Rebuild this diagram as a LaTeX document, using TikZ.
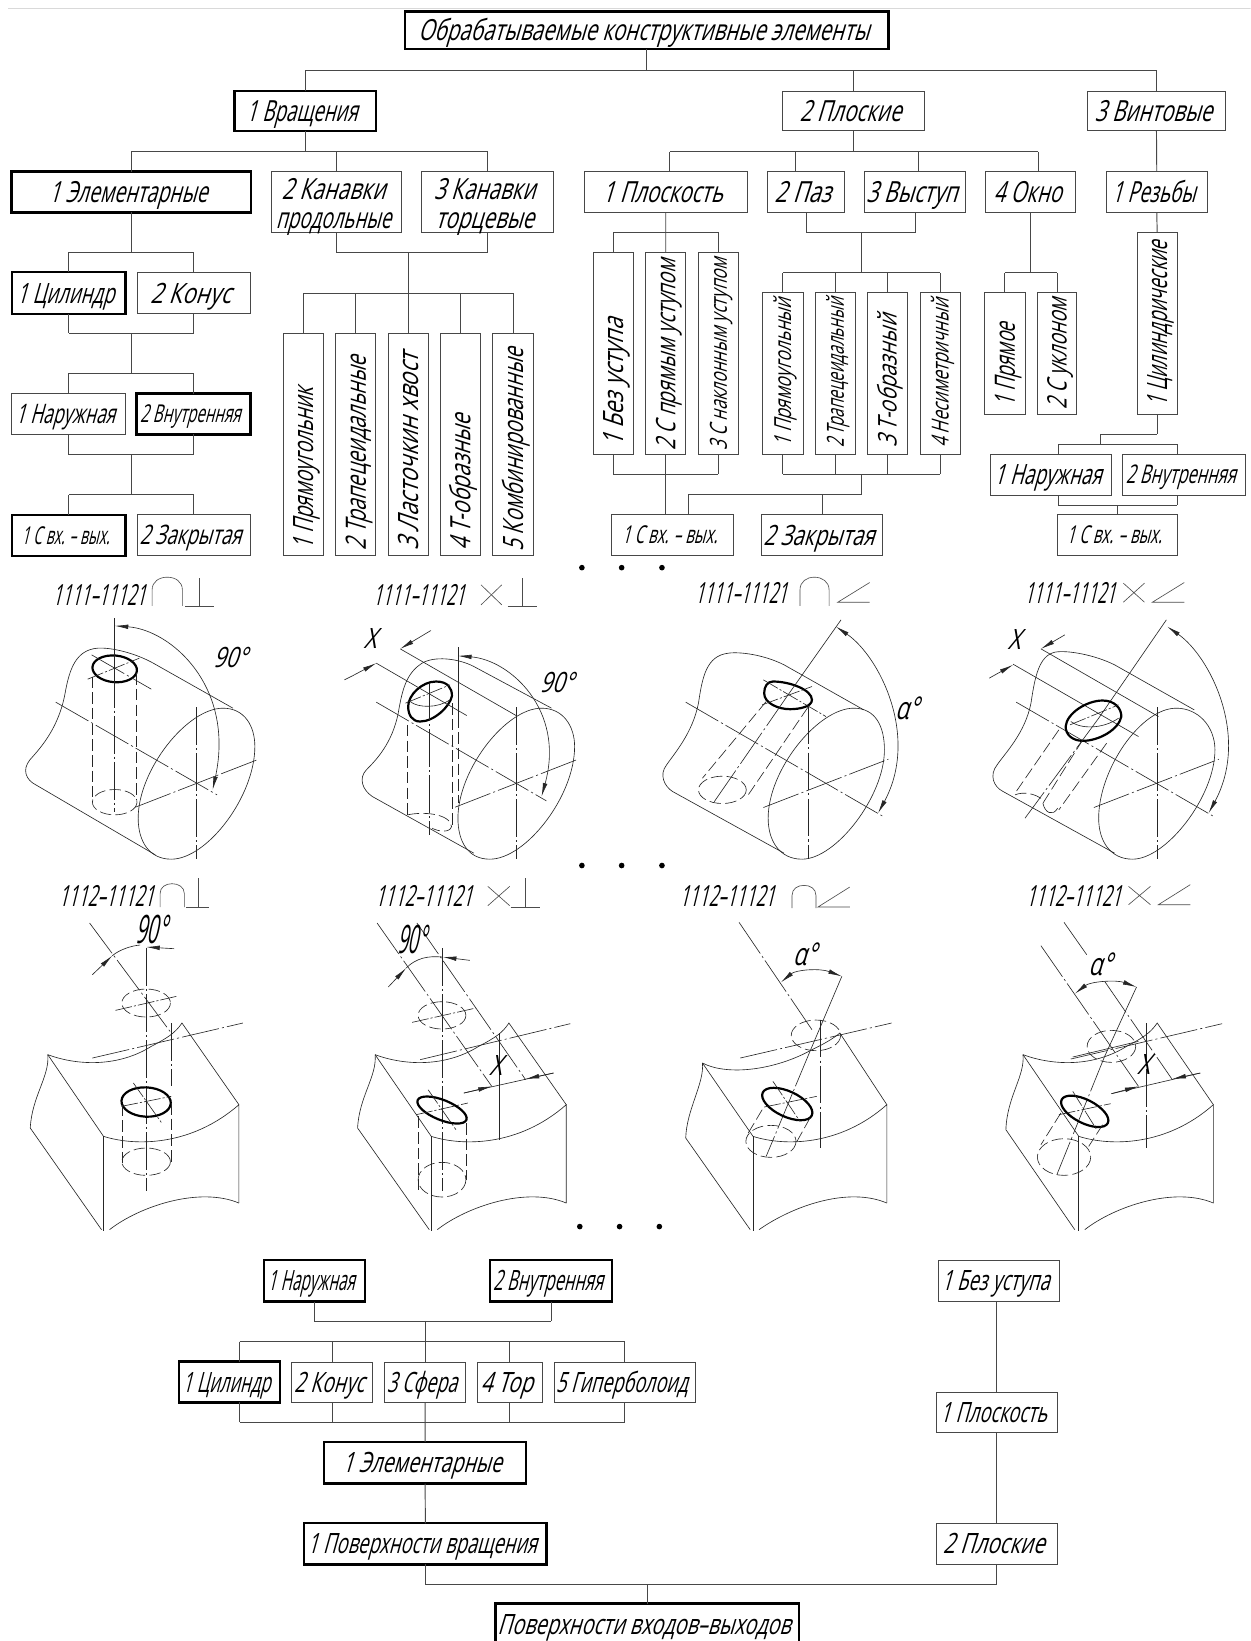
\documentclass[tikz,border=0pt]{standalone}
\usepackage{fontspec}
\usepackage{graphicx}
\setmainfont[FakeSlant=0.42]{Open Sans}
\usetikzlibrary{arrows.meta}
\tikzset{
  thinbox/.style={draw=black!72,line width=0.9pt,inner sep=0pt,outer sep=0pt,align=center},
  thickbox/.style={draw=black,line width=2.3pt,inner sep=0pt,outer sep=0pt,align=center},
  conn/.style={draw=black!72,line width=0.9pt},
  fine/.style={draw=black!85,line width=0.6pt},
  chain/.style={fine,dash pattern=on 36pt off 3pt on 2pt off 3pt},
  chainb/.style={fine,dash pattern=on 16pt off 2pt on 2pt off 2pt},
  hid/.style={fine,dash pattern=on 11pt off 4pt},
  hole/.style={draw=black,line width=2.1pt},
  sym/.style={draw=black!70,line width=0.6pt},
  dimarc/.style={fine,{Latex[length=13pt,width=4.4pt]}-{Latex[length=13pt,width=4.4pt]}},
  dimtip/.style={fine,-{Latex[length=13pt,width=4.4pt]}},
  txt/.style={inner sep=0pt,outer sep=0pt},
  zup/.style={x=0.3805pt,y=-0.3185pt}
}
\newcommand\fw[2]{\raisebox{-0.357em}[0pt][0pt]{\resizebox{#1pt}{\height}{#2}\hspace*{6pt}}}
\newcommand\setfs[1]{\pgfmathsetmacro\fsz{1.07*#1}\fontsize{\fsz}{\fsz}\selectfont}
\newcommand\bx[9]{%
  \pgfmathsetmacro\bw{#4-#3}\pgfmathsetmacro\bh{#6-#5}%
  \pgfmathsetmacro\bcx{(#3+#4)/2}\pgfmathsetmacro\bcy{(#5+#6)/2}%
  \node[#1,minimum width=\bw pt,minimum height=\bh pt,font=\setfs{#7}] (#2) at (\bcx,\bcy) {\fw{#8}{#9}};}
\newcommand\vbx[6]{%
  \pgfmathsetmacro\bw{#4-#3}\pgfmathsetmacro\bh{#6-#5}%
  \pgfmathsetmacro\bcx{(#3+#4)/2}\pgfmathsetmacro\bcy{(#5+#6)/2}%
  \node[#1,minimum width=\bw pt,minimum height=\bh pt] (#2) at (\bcx,\bcy) {};}
\newcommand\vtx[5]{\node[txt,rotate=90,anchor=west,font=\setfs{#2}] (#1t) at (#1 |- 0,#4) {\fw{#3}{#5}};}
\newcommand\down[2]{\foreach \n in {#2}{\draw[conn] (\n.south) -- (\n |- 0,#1);}}
\newcommand\up[2]{\foreach \n in {#2}{\draw[conn] (\n.north) -- (\n |- 0,#1);}}
\newcommand\hrail[3]{\draw[conn] (#2 |- 0,#1) -- (#3 |- 0,#1);}
\newcommand\stem[3]{\draw[conn] (#1 |- 0,#2) -- (#1 |- 0,#3);}
\newcommand\hdr[5]{\node[txt,font=\setfs{26}] (#1) at (#2,#3) {\fw{#4}{#5}};}
\newcommand\lab[6]{\node[txt,font=\setfs{#4}] (#1) at (#2,#3) {\fw{#5}{#6}};}
\newcommand\ellz[5][hid]{\draw[#1] (#2,#3) ellipse [x radius=#4,y radius=#5];}
\newcommand\holez[5]{\draw[hole,rotate around={#5:(#1,#2)}] (#1,#2) ellipse [x radius=#3,y radius=#4];}
\begin{document}
\begin{tikzpicture}[x=1pt,y=-1pt]
\clip (0,0) rectangle (1195,1568);
\fill[white] (0,0) rectangle (1195,1568);
\draw[black!15,line width=0.8pt] (8,7.6) -- (1195,7.6);
% ---------- top tree
\bx{thickbox}{top}{387}{849}{11}{47}{26}{431}{Обрабатываемые конструктивные элементы}
\bx{thickbox}{rot}{224}{359}{87}{125}{26}{106}{1 Вращения}
\bx{thinbox}{plo}{748}{883}{87}{125}{26}{97}{2 Плоские}
\bx{thinbox}{vin}{1039}{1171}{87}{125}{26}{112}{3 Винтовые}
\down{67}{top}\hrail{67}{rot}{vin}\up{67}{rot,plo,vin}
% rotation branch
\bx{thickbox}{el}{11}{240}{164}{203}{26}{151}{1 Элементарные}
\vbx{thinbox}{kp}{259}{384}{164}{222}
\vbx{thinbox}{kt}{403}{529}{164}{222}
\lab{kp1}{321.5}{181}{26}{99}{2 Канавки}
\lab{kp2}{321.5}{208}{26}{110}{продольные}
\lab{kt1}{466}{181}{26}{97}{3 Канавки}
\lab{kt2}{466}{208}{26}{94}{торцевые}
\down{144.5}{rot}\hrail{144.5}{el}{kt}\up{144.5}{el,kp,kt}
\bx{thickbox}{cy}{11.4}{120}{260}{300}{25}{93}{1 Цилиндр}
\bx{thinbox}{ko}{131}{239}{260}{300}{25}{77}{2 Конус}
\bx{thinbox}{na}{11.4}{119.5}{376}{415}{24}{95}{1 Наружная}
\bx{thickbox}{vn}{130.5}{239.3}{376}{415}{22}{96}{2 Внутренняя}
\bx{thickbox}{sv}{11.4}{120}{492}{531}{22}{84}{1 С вх. – вых.}
\bx{thinbox}{za}{131}{239}{492}{531}{24}{97}{2 Закрытая}
\down{241}{el}\hrail{241}{cy}{ko}\up{241}{cy,ko}
\down{318.5}{cy,ko}\hrail{318.5}{cy}{ko}\stem{el}{318.5}{357}
\hrail{357}{na}{vn}\up{357}{na,vn}
\down{434}{na,vn}\hrail{434}{na}{vn}\stem{el}{434}{472.6}
\hrail{472.6}{sv}{za}\up{472.6}{sv,za}
\vbx{thinbox}{a1}{270.5}{309}{318.5}{530.5}
\vbx{thinbox}{a2}{321}{359}{318.5}{530.5}
\vbx{thinbox}{a3}{371}{409.5}{318.5}{530.5}
\vbx{thinbox}{a4}{421}{459}{318.5}{530.5}
\vbx{thinbox}{a5}{471}{509.5}{318.5}{530.5}
\vtx{a1}{25}{155}{525}{1 Прямоугольник}
\vtx{a2}{25}{186}{526}{2 Трапецеидальные}
\vtx{a3}{25}{189}{526}{3 Ласточкин хвост}
\vtx{a4}{25}{130}{526}{4 Т-образные}
\vtx{a5}{25}{194}{527}{5 Комбинированные}
\down{241}{kp,kt}\hrail{241}{kp}{kt}\stem{a3}{241}{318.5}
\hrail{280}{a1}{a5}\up{280}{a1,a2,a4,a5}
% plane branch
\bx{thinbox}{pl}{558}{714.2}{164}{203}{26}{115}{1 Плоскость}
\bx{thinbox}{pa}{733.3}{806.7}{164}{203}{26}{54}{2 Паз}
\bx{thinbox}{vy}{825.8}{922.5}{164}{203}{26}{87}{3 Выступ}
\bx{thinbox}{ok}{941.6}{1028}{164}{203}{26}{65}{4 Окно}
\bx{thinbox}{re}{1057}{1153.6}{164}{203}{26}{80}{1 Резьбы}
\down{145}{plo}\coordinate (rl) at (640,0);\coordinate (rr) at (992,0);
\coordinate (px) at (760.3,0);\coordinate (vx) at (878,0);
\hrail{145}{rl}{rr}
\draw[conn] (rl |- 0,145) -- (rl |- pl.north);
\draw[conn] (px |- 0,145) -- (px |- pa.north);
\draw[conn] (vx |- 0,145) -- (vx |- vy.north);
\draw[conn] (rr |- 0,145) -- (rr |- ok.north);
\draw[conn] (vin.south) -- (re.north);
\vbx{thinbox}{b1}{566.9}{605}{241}{434}
\vbx{thinbox}{b2}{617}{655.3}{241}{434}
\vbx{thinbox}{b3}{667.3}{705.5}{241}{434}
\vtx{b1}{25}{122.6}{427}{1 Без уступа}
\vtx{b2}{24}{182}{430}{2 С прямым уступом}
\vtx{b3}{21}{183}{430}{3 С наклонным уступом}
\draw[conn] (pl.south) -- (b2.north);
\hrail{222}{b1}{b3}\foreach \n in {b1,b3}{\draw[conn] (\n.north) -- (\n |- 0,222);}
\down{453}{b1,b3}\hrail{453}{b1}{b3}
\bx{thinbox}{s2}{584.7}{701}{492}{530.6}{22}{91}{1 С вх. – вых.}
\bx{thinbox}{z2}{727.5}{843.3}{492}{530.6}{25}{106}{2 Закрытая}
\draw[conn] (b2.south) -- (b2 |- s2.north);
\coordinate (cmid) at (823,0);
\vbx{thinbox}{c1}{728.7}{767.3}{279.7}{434}
\vbx{thinbox}{c2}{779}{817.5}{279.7}{434}
\vbx{thinbox}{c3}{828.7}{867.3}{279.7}{434}
\vbx{thinbox}{c4}{879.4}{917.5}{279.7}{434}
\vtx{c1}{21}{141.7}{427}{1 Прямоугольный}
\vtx{c2}{21}{143}{428}{2 Трапецеидальный}
\vtx{c3}{23}{127}{428}{3 Т-образный}
\vtx{c4}{21}{142}{428}{4 Несиметричный}
\coordinate (pz) at (770.2,0);\coordinate (vz) at (874.8,0);
\stem{pz}{203}{222}\stem{vz}{203}{222}\hrail{222}{pz}{vz}\stem{cmid}{222}{260.5}
\hrail{260.5}{c1}{c4}\up{260.5}{c1,c2,c3,c4}
\down{453}{c1,c2,c3,c4}\hrail{453}{c1}{c4}\stem{cmid}{453}{472.9}
\coordinate (xa) at (657.8,0);
\hrail{472.9}{xa}{cmid}\draw[conn] (xa |- 0,472.9) -- (xa |- s2.north);\up{472.9}{z2}
\vbx{thinbox}{d1}{940.8}{979.4}{279.7}{395.9}
\vbx{thinbox}{d2}{991}{1029}{279.7}{395.9}
\vtx{d1}{25}{80}{388.5}{1 Прямое}
\vtx{d2}{24}{106}{391}{2 С уклоном}
\stem{ok}{203}{260.5}\hrail{260.5}{d1}{d2}\up{260.5}{d1,d2}
% thread branch
\vbx{thinbox}{e1}{1086.4}{1125}{222}{396}
\vtx{e1}{25}{158}{388.5}{1 Цилиндрические}
\draw[conn] (re.south) -- (e1.north);
\bx{thinbox}{n3}{946.2}{1062.3}{434}{473}{25}{102.5}{1 Наружная}
\bx{thinbox}{v3}{1073}{1189.7}{434}{473}{23}{105}{2 Внутренняя}
\bx{thinbox}{s3}{1010}{1125.4}{492}{530.6}{22}{91}{1 С вх. – вых.}
\coordinate (t1) at (1051.1,0);\coordinate (t2) at (1011.3,0);\coordinate (t3) at (1124.6,0);
\down{415}{e1}\hrail{415}{t1}{e1}\stem{t1}{415}{424.5}
\hrail{424.5}{t2}{t3}\stem{t2}{424.5}{434}\stem{t3}{424.5}{434}
\stem{t2}{473}{482.8}\stem{t3}{473}{482.8}\hrail{482.8}{t2}{t3}\up{482.8}{s3}
% dots
\foreach \i/\x/\y in {1/556/542.4,2/594/542.4,3/632.5/542.4,4/556/827,5/594/827,6/632.5/827,7/554/1172,8/592/1172,9/630/1172}
  {\fill[black] (\x,\y) circle (2.7pt);}
% ========== figure 1
\begin{scope}[shift={(0,544.5)},zup]
\hdr{h1}{257}{76}{89}{1111–11121}
\draw[sym] (382,108) -- (382,60) .. controls (382,35) and (400,22) .. (420,22) .. controls (440,22) and (458,35) .. (458,60) -- (458,108);
\draw[sym] (465,108) -- (538,108) (500,25) -- (500,108);
\draw[fine] (560,415) .. controls (615,415) and (640,470) .. (640,530) .. controls (640,680) and (520,868) .. (430,868) .. controls (375,868) and (347,815) .. (347,745) .. controls (347,600) and (470,415) .. (560,415);
\draw[fine] (585,415) -- (385,280) .. controls (340,250) and (280,232) .. (245,235) .. controls (190,240) and (175,300) .. (165,360) .. controls (150,470) and (105,530) .. (75,570) .. controls (55,600) and (65,630) .. (90,645) -- (390,855);
\draw[chain] (140,397) -- (545,675);
\draw[chain] (494,412) -- (494,868);
\draw[chain] (340,712) -- (650,568);
\holez{288}{297}{56}{40}{-5}
\draw[chain] (230,255) -- (380,358);
\draw[chainb] (220,328) -- (350,265);
\draw[fine] (288,145) -- (288,300);
\draw[chain] (288,300) -- (288,725);
\draw[hid] (232,320) -- (232,680) (343,310) -- (343,690);
\ellz{288}{697}{56}{38}
\draw[dimarc] (534,660) .. controls (590,350) and (430,180) .. (288,168);
\lab{d1a}{585}{262}{25}{32}{90°}
\end{scope}
% ========== figure 2
\begin{scope}[shift={(0,544.5)},zup]
\hdr{h2}{1060}{76}{87.5}{1111–11121}
\draw[sym] (1208,45) -- (1260,105) (1208,105) -- (1260,45);
\draw[sym] (1275,108) -- (1348,108) (1312,25) -- (1312,108);
\draw[fine] (1360,415) .. controls (1415,415) and (1443,470) .. (1443,530) .. controls (1443,680) and (1320,868) .. (1230,868) .. controls (1175,868) and (1150,815) .. (1150,745) .. controls (1150,600) and (1270,415) .. (1360,415);
\draw[fine] (1385,415) -- (1190,290) .. controls (1150,265) and (1090,258) .. (1060,280) .. controls (1020,310) and (1010,360) .. (1000,430) .. controls (985,520) and (945,570) .. (920,600) .. controls (900,625) and (910,660) .. (935,680) -- (1190,850);
\draw[chain] (945,397) -- (1372,693);
\draw[chain] (1296,412) -- (1296,868);
\draw[chain] (1143,712) -- (1452,568);
\draw[hole] (1095,335) .. controls (1125,335) and (1135,355) .. (1135,378) .. controls (1130,410) and (1090,455) .. (1055,455) .. controls (1035,455) and (1025,435) .. (1025,410) .. controls (1025,375) and (1060,335) .. (1095,335) -- cycle;
\draw[fine] (1030,395) .. controls (1050,415) and (1100,415) .. (1130,390);
\draw[fine] (1005,237) -- (1296,437);
\draw[fine] (945,280) -- (1172,437);
\draw[chainb] (1018,400) -- (1130,345);
\draw[chain] (1078,340) -- (1078,795);
\draw[hid] (1024,465) -- (1024,735) (1135,400) -- (1135,770);
\draw[hid] (1024,735) .. controls (1060,725) and (1130,730) .. (1134,770) .. controls (1130,790) and (1100,785) .. (1085,775);
\draw[fine] (1150,232) -- (1150,440);
\draw[hid] (1150,440) -- (1150,700);
\draw[fine] (865,330) -- (885,318);
\draw[dimtip] (885,318) -- (945,280);
\draw[dimtip] (1082,182) -- (1005,237);
\lab{x2}{937}{205}{25}{12}{Х}
\draw[dimarc] (1360,680) .. controls (1420,420) and (1280,270) .. (1150,258);
\lab{d2a}{1405}{338}{25}{32}{90°}
\end{scope}
% ========== figure 3
\begin{scope}[shift={(597,544.5)},zup]
\hdr{h3}{300}{70}{88}{1111–11121}
\draw[sym] (440,108) -- (440,60) .. controls (440,35) and (457,22) .. (476,22) .. controls (495,22) and (513,35) .. (513,60) -- (513,108);
\draw[sym] (615,38) -- (535,97) -- (615,97);
\draw[fine] (575,415) .. controls (630,415) and (652,470) .. (652,540) .. controls (652,680) and (530,868) .. (445,868) .. controls (390,868) and (360,815) .. (360,745) .. controls (360,600) and (485,415) .. (575,415);
\draw[fine] (600,420) -- (400,285) .. controls (350,255) and (290,245) .. (260,250) .. controls (205,258) and (195,320) .. (185,400) .. controls (170,490) and (125,550) .. (105,585) .. controls (85,615) and (100,650) .. (120,665) -- (400,850);
\draw[chain] (153,397) -- (652,742);
\draw[chain] (460,410) -- (460,868);
\draw[chain] (348,713) -- (662,568);
\draw[hole] (372,335) .. controls (415,335) and (470,360) .. (470,390) .. controls (470,410) and (440,418) .. (415,418) .. controls (385,418) and (350,400) .. (350,370) .. controls (350,350) and (358,335) .. (372,335) -- cycle;
\draw[chainb] (348,330) -- (505,440);
\draw[chainb] (345,405) -- (470,350);
\draw[fine] (543,150) -- (410,375);
\draw[chain] (410,375) -- (222,700);
\draw[hid] (355,395) -- (195,625) (460,412) -- (310,675);
\ellz{245}{660}{60}{41}
\draw[dimarc] (636,730) .. controls (740,500) and (640,260) .. (530,170);
\lab{d3a}{715}{415}{28}{22}{α°}
\end{scope}
% ========== figure 4
\begin{scope}[shift={(597,544.5)},zup]
\hdr{h4}{1126}{70}{87}{1111–11121}
\draw[sym] (1252,40) -- (1305,97) (1252,97) -- (1305,40);
\draw[sym] (1405,38) -- (1325,97) -- (1405,97);
\draw[fine] (1385,415) .. controls (1440,415) and (1482,470) .. (1482,540) .. controls (1482,680) and (1360,868) .. (1275,868) .. controls (1220,868) and (1190,815) .. (1190,745) .. controls (1190,600) and (1295,415) .. (1385,415);
\draw[fine] (1430,420) -- (1230,285) .. controls (1180,255) and (1110,240) .. (1080,247) .. controls (1040,258) and (1030,320) .. (1020,400) .. controls (1005,490) and (955,550) .. (935,585) .. controls (915,615) and (925,650) .. (950,665) -- (1230,850);
\draw[chain] (983,397) -- (1482,742);
\draw[chain] (1336,412) -- (1336,868);
\draw[chain] (1178,713) -- (1492,568);
\draw[fine] (1045,237) -- (1340,440);
\draw[fine] (975,283) -- (1290,500);
\draw[fine] (1360,150) -- (1190,445);
\draw[chain] (1190,445) -- (1005,745);
\draw[hole] (1200,392) .. controls (1230,392) and (1247,415) .. (1247,440) .. controls (1240,480) and (1190,513) .. (1150,513) .. controls (1125,513) and (1107,495) .. (1107,470) .. controls (1110,430) and (1160,392) .. (1200,392) -- cycle;
\draw[fine] (1120,455) .. controls (1145,478) and (1200,478) .. (1240,445);
\draw[chainb] (1118,465) -- (1240,405);
\draw[hid] (1090,480) -- (980,670) (1150,510) -- (1050,700) (1210,520) -- (1090,720);
\draw[hid] (980,675) .. controls (1000,665) and (1030,670) .. (1050,690);
\draw[fine] (1050,700) .. controls (1055,730) and (1075,740) .. (1087,715);
\draw[dimarc] (1466,730) .. controls (1570,500) and (1470,260) .. (1362,170);
\draw[dimtip] (915,325) -- (975,285);
\draw[dimtip] (1105,195) -- (1045,237);
\lab{x4}{985}{208}{25}{12}{Х}
\end{scope}
% ========== figure 5
\begin{scope}[shift={(0,831)},zup]
\hdr{h5}{275}{78}{91}{1112–11121}
\draw[sym] (402,112) -- (402,72) .. controls (402,52) and (416,42) .. (432,42) .. controls (448,42) and (463,52) .. (463,72) -- (463,112);
\draw[sym] (468,112) -- (525,112) (497,25) -- (497,112);
\draw[fine] (120,555) .. controls (200,590) and (300,590) .. (380,530) .. controls (420,505) and (440,490) .. (457,460) -- (600,705);
\draw[fine] (120,555) -- (260,800) .. controls (340,830) and (480,830) .. (600,705) -- (600,1000);
\draw[fine] (120,555) .. controls (125,620) and (80,680) .. (76,775) -- (255,1080);
\draw[fine] (260,800) -- (260,1085);
\draw[fine] (275,1080) .. controls (350,1010) and (500,950) .. (600,1000);
\draw[chain] (232,565) -- (610,460);
\draw[chain] (367,235) -- (367,965);
\draw[chain] (225,160) -- (430,490);
\draw[chain] (430,460) -- (430,650);
\ellz{367}{400}{61}{42}
\draw[chainb] (290,422) -- (443,380);
\holez{367}{697}{62}{44}{-3}
\draw[chainb] (335,640) -- (405,758);
\draw[chainb] (305,710) -- (430,680);
\draw[hid] (307,705) -- (307,880) (430,700) -- (430,880);
\ellz{367}{876}{61}{41}
\draw[fine] (282,258) .. controls (300,240) and (330,228) .. (352,226);
\draw[dimtip] (232,315) -- (282,258);
\draw[dimtip] (437,237) -- (367,232);
\lab{d5a}{387}{178}{35}{30}{90°}
\end{scope}
% ========== figure 6
\begin{scope}[shift={(0,831)},zup]
\hdr{h6}{1072}{78}{93}{1112–11121}
\draw[sym] (1225,50) -- (1280,108) (1225,108) -- (1280,50);
\draw[sym] (1282,112) -- (1355,112) (1318,25) -- (1318,112);
\draw[fine] (942,555) .. controls (1022,590) and (1122,590) .. (1202,530) .. controls (1242,505) and (1262,490) .. (1278,460) -- (1422,705);
\draw[fine] (942,555) -- (1083,800) .. controls (1163,830) and (1303,830) .. (1422,705) -- (1422,1000);
\draw[fine] (942,555) .. controls (947,620) and (902,680) .. (898,775) -- (1078,1080);
\draw[fine] (1083,800) -- (1083,1085);
\draw[fine] (1098,1080) .. controls (1173,1010) and (1323,950) .. (1422,1000);
\draw[chain] (1055,570) -- (1432,462);
\draw[chain] (1110,235) -- (1110,965);
\draw[chain] (947,160) -- (1235,650);
\draw[chain] (1047,160) -- (1320,630);
\draw[fine] (1253,490) -- (1253,810);
\ellz{1110}{437}{60}{41}
\draw[chainb] (1035,458) -- (1195,415);
\holez{1110}{721}{66}{30}{-22}
\draw[chainb] (1075,660) -- (1145,780);
\draw[chainb] (1045,735) -- (1175,700);
\draw[hid] (1050,740) -- (1050,960) (1170,760) -- (1170,930);
\ellz{1110}{930}{60}{52}
\draw[fine] (1020,295) .. controls (1045,265) and (1075,258) .. (1110,262);
\draw[dimtip] (975,352) -- (1020,295);
\draw[dimtip] (1180,272) -- (1112,262);
\draw[fine] (1165,670) -- (1390,610);
\draw[dimtip] (1165,670) -- (1235,650);
\draw[dimtip] (1390,610) -- (1320,628);
\lab{x6}{1252}{587}{25}{12}{Х}
\lab{d6a}{1042}{208}{35}{28}{90°}
\end{scope}
% ========== figure 7
\begin{scope}[shift={(597,831)},zup]
\hdr{h7}{265}{78}{91}{1112–11121}
\draw[sym] (420,115) -- (420,77) .. controls (420,57) and (434,47) .. (450,47) .. controls (466,47) and (480,57) .. (480,77) -- (480,115);
\draw[sym] (565,52) -- (485,112) -- (565,112);
\draw[fine] (195,580) .. controls (260,620) and (380,600) .. (470,540) .. controls (505,520) and (525,505) .. (540,490) -- (658,705);
\draw[fine] (195,580) -- (322,800) .. controls (400,830) and (540,830) .. (658,705) -- (658,1000);
\draw[fine] (195,580) .. controls (200,640) and (155,720) .. (153,805) -- (315,1080);
\draw[fine] (322,800) -- (322,1085);
\draw[fine] (337,1080) .. controls (420,1010) and (560,950) .. (658,1000);
\draw[chain] (290,565) -- (670,460);
\draw[chain] (287,158) -- (470,480);
\draw[chain] (490,450) -- (490,835);
\draw[fine] (545,320) -- (465,545);
\draw[chain] (465,545) -- (355,860);
\ellz{480}{497}{62}{46}
\holez{408}{703}{68}{38}{-25}
\draw[chainb] (372,635) -- (440,755);
\draw[chainb] (350,712) -- (482,680);
\draw[hid] (345,720) -- (305,800) (465,745) -- (430,820);
\ellz{367}{815}{63}{48}
\draw[dimarc] (392,338) .. controls (430,300) and (490,295) .. (545,320);
\lab{a7}{458}{255}{28}{22}{α°}
\end{scope}
% ========== figure 8
\begin{scope}[shift={(597,831)},zup]
\hdr{h8}{1135}{78}{91}{1112–11121}
\draw[sym] (1265,50) -- (1320,105) (1265,105) -- (1320,50);
\draw[sym] (1420,45) -- (1340,105) -- (1420,105);
\draw[fine] (1000,555) .. controls (1080,590) and (1180,590) .. (1260,530) .. controls (1300,505) and (1320,490) .. (1337,460) -- (1478,705);
\draw[fine] (1000,555) -- (1140,800) .. controls (1220,830) and (1360,830) .. (1478,705) -- (1478,1000);
\draw[fine] (1000,555) .. controls (1005,620) and (960,680) .. (957,780) -- (1130,1080);
\draw[fine] (1140,800) -- (1140,1085);
\draw[fine] (1155,1080) .. controls (1230,1010) and (1380,950) .. (1478,1000);
\draw[chain] (1120,568) -- (1500,462);
\draw[fine] (1125,562) -- (1290,515);
\draw[fine] (1103,158) -- (1160,255);
\draw[chain] (1045,228) -- (1290,650);
\draw[chain] (1205,335) -- (1375,630);
\draw[chain] (1310,460) -- (1310,835);
\draw[fine] (1285,352) -- (1205,560);
\draw[chain] (1205,560) -- (1085,915);
\ellz{1222}{530}{61}{48}
\holez{1155}{725}{65}{35}{-27}
\draw[chainb] (1125,665) -- (1185,780);
\draw[chainb] (1090,735) -- (1220,702);
\draw[hid] (1095,730) -- (1045,825) (1200,765) -- (1165,830);
\ellz{1103}{862}{67}{55}
\draw[fine] (1222,672) -- (1445,610);
\draw[dimtip] (1222,672) -- (1290,650);
\draw[dimtip] (1445,610) -- (1375,628);
\lab{x8}{1310}{585}{25}{12}{Х}
\draw[dimarc] (1130,372) .. controls (1170,335) and (1235,330) .. (1285,352);
\lab{a8}{1200}{285}{28}{22}{α°}
\end{scope}
% ---------- bottom tree
\bx{thickbox}{ln}{252}{349}{1204.2}{1243.7}{25}{83}{1 Наружная}
\bx{thickbox}{lv}{468.4}{585}{1204.2}{1243.7}{25}{105}{2 Внутренняя}
\bx{thickbox}{lc}{171.3}{267.7}{1301}{1340.2}{25}{84}{1 Цилиндр}
\bx{thinbox}{lk}{278.9}{356.3}{1301.4}{1340}{25}{67}{2 Конус}
\bx{thinbox}{ls}{367.5}{444.8}{1301.4}{1340}{25}{67}{3 Сфера}
\bx{thinbox}{lt}{456}{518.3}{1301.4}{1340}{25}{50}{4 Тор}
\bx{thinbox}{lg}{529.5}{664.6}{1301.4}{1340}{25}{126}{5 Гиперболоид}
\bx{thickbox}{le}{309.8}{502.6}{1377.8}{1417.6}{25}{152}{1 Элементарные}
\bx{thickbox}{lp}{290.7}{522.2}{1455.5}{1494.7}{25}{219}{1 Поверхности вращения}
\bx{thickbox}{lb}{473.4}{763.2}{1532.3}{1572}{25}{280}{Поверхности входов–выходов}
\bx{thinbox}{rb}{896.6}{1012}{1204.5}{1243.4}{25}{103}{1 Без уступа}
\bx{thinbox}{rp}{894.4}{1010.4}{1330.4}{1368.9}{25}{102}{1 Плоскость}
\bx{thinbox}{rq}{894.4}{1010.4}{1455.5}{1494.4}{25}{97}{2 Плоские}
\down{1262.2}{ln,lv}\hrail{1262.2}{ln}{lv}\draw[conn] (ls |- 0,1262.2) -- (ls.north);
\coordinate (lcx) at (229,0);
\hrail{1282}{lcx}{lg}\stem{lcx}{1282}{1301}\up{1282}{lk,lt,lg}
\stem{lcx}{1340}{1358.7}\down{1358.7}{lk,lt,lg}\hrail{1358.7}{lcx}{lg}
\draw[conn] (ls.south) -- (le.north);
\draw[conn] (le.south) -- (lp.north);
\draw[conn] (lp.south) -- (lp |- 0,1513.5);
\draw[conn] (rb.south -| rp) -- (rp.north);
\draw[conn] (rp.south) -- (rq.north);
\draw[conn] (rq.south) -- (rq |- 0,1513.5);
\hrail{1513.5}{lp}{rq}
\up{1513.5}{lb}
\end{tikzpicture}
\end{document}
